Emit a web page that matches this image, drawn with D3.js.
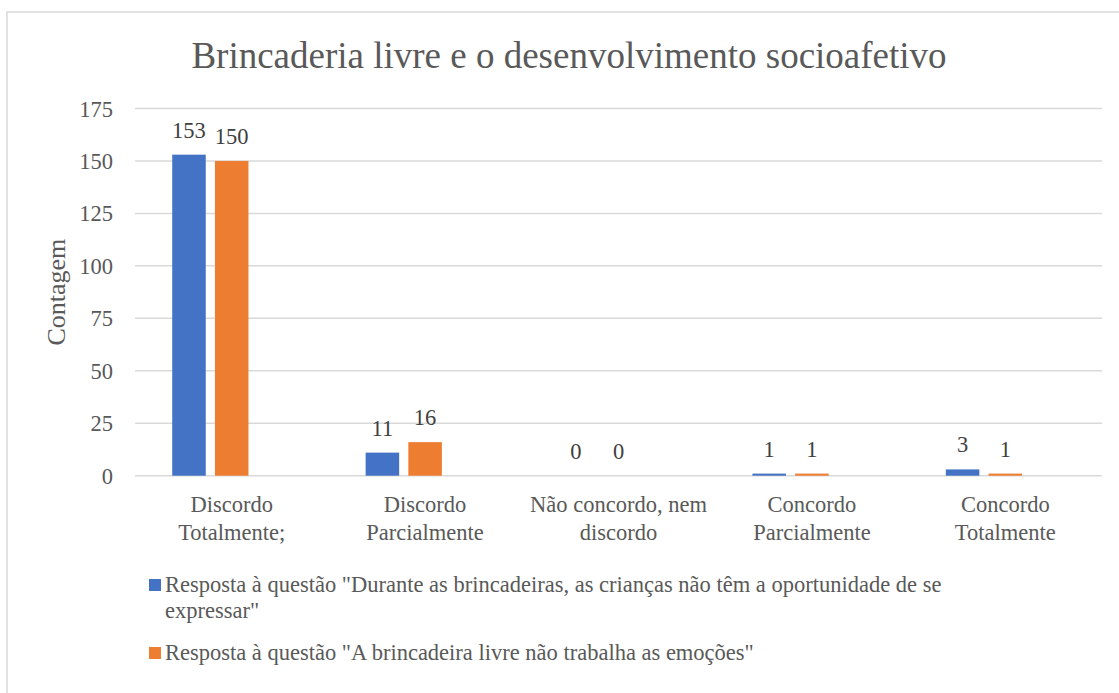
<!DOCTYPE html>
<html>
<head>
<meta charset="utf-8">
<script src="https://cdn.jsdelivr.net/npm/d3@7"></script>
</head>
<body style="margin:0; background:#fff">
<svg id="chart" width="1119" height="693" style="display:block"></svg>
<script>
// Response categories on the x axis
const categories = [
  "Discordo Totalmente;",
  "Discordo Parcialmente",
  "Não concordo, nem discordo",
  "Concordo Parcialmente",
  "Concordo Totalmente"
];

// Counts for each question
const seriesNames = [
  "Resposta à questão \"Durante as brincadeiras, as crianças não têm a oportunidade de se expressar\"",
  "Resposta à questão \"A brincadeira livre não trabalha as emoções\""
];
const expressarValues = [153, 11, 0, 1, 3];
const emocoesValues = [150, 16, 0, 1, 1];

const yTicks = [0, 25, 50, 75, 100, 125, 150, 175];
const title = "Brincaderia livre e o desenvolvimento socioafetivo";
const yAxisTitle = "Contagem";

const colors = ["#4472C4", "#ED7D31"];
const seriesValues = [expressarValues, emocoesValues];

const textColor = "#595959";
const FONT = "'Liberation Serif'";

const svg = d3.select("#chart").style("font-family", FONT, "important");

// Outer frame
svg.append("rect")
  .attr("x", 7).attr("y", 12)
  .attr("width", 1130).attr("height", 700)
  .attr("fill", "#fff")
  .attr("stroke", "#d9d9d9").attr("stroke-width", 1.5);

const plot = { left: 135, right: 1102, top: 108.5, bottom: 475.7 };

const y = d3.scaleLinear().domain([0, 175]).range([plot.bottom, plot.top]);

const x0 = d3.scaleBand()
  .domain(categories)
  .range([plot.left, plot.right])
  .paddingInner(0.385)
  .paddingOuter(0.1925);

// Each group keeps three slots; the last one stays empty
const slots = [0, 1, 2];
const x1 = d3.scaleBand()
  .domain(slots)
  .range([0, x0.bandwidth()])
  .paddingInner(0.215);

function label(sel, x, yPos, size, anchor, color) {
  return sel.append("text")
    .attr("x", x).attr("y", yPos)
    .style("font-family", FONT, "important")
    .attr("font-size", size)
    .attr("text-anchor", anchor)
    .attr("fill", color || textColor);
}

// Title
label(svg, 569, 68, 37, "middle").text(title);

// Gridlines
svg.append("g")
  .selectAll("line")
  .data(yTicks)
  .join("line")
  .attr("x1", plot.left).attr("x2", plot.right)
  .attr("y1", d => y(d)).attr("y2", d => y(d))
  .attr("stroke", "#d9d9d9").attr("stroke-width", 1.5);

// Y tick labels
const yAxis = svg.append("g");
yTicks.forEach(t => {
  label(yAxis, 113, y(t) + 8, 22.5, "end").text(t);
});

// Y axis title
label(svg, 0, 0, 26, "middle")
  .attr("transform", `translate(65,${(plot.top + plot.bottom) / 2}) rotate(-90)`)
  .text(yAxisTitle);

// Bars
const bars = svg.append("g");
seriesValues.forEach((vals, si) => {
  bars.selectAll(null)
    .data(vals)
    .join("rect")
    .attr("x", (d, i) => x0(categories[i]) + x1(slots[si]))
    .attr("y", d => y(d))
    .attr("width", x1.bandwidth())
    .attr("height", d => y(0) - y(d))
    .attr("fill", colors[si]);
});

// Data labels
const dl = svg.append("g");
seriesValues.forEach((vals, si) => {
  vals.forEach((v, i) => {
    label(dl, x0(categories[i]) + x1(slots[si]) + x1.bandwidth() / 2, y(v) - 17, 22.5, "middle", "#404040").text(v);
  });
});

// Word-wrap helper
function wrapWords(text, fontSize, maxWidth) {
  const probe = label(svg, 0, 0, fontSize, "start").attr("visibility", "hidden");
  const words = text.split(" ");
  const lines = [];
  let cur = "";
  words.forEach(w => {
    const test = cur ? cur + " " + w : w;
    probe.text(test);
    if (probe.node().getComputedTextLength() > maxWidth && cur) {
      lines.push(cur);
      cur = w;
    } else {
      cur = test;
    }
  });
  if (cur) lines.push(cur);
  probe.remove();
  return lines;
}

// Category labels
const xl = svg.append("g");
categories.forEach(c => {
  const cx = x0(c) + x0.bandwidth() / 2;
  const lines = wrapWords(c, 22.5, 182);
  lines.forEach((ln, k) => {
    label(xl, cx, 512 + k * 28, 22.5, "middle").text(ln);
  });
});

// Legend
const legend = svg.append("g");
const legendRows = [579, 647];
seriesNames.forEach((name, si) => {
  const top = legendRows[si];
  legend.append("rect")
    .attr("x", 149).attr("y", top)
    .attr("width", 12).attr("height", 12)
    .attr("fill", colors[si]);
  const lines = wrapWords(name, 22.5, 850);
  lines.forEach((ln, k) => {
    label(legend, 165, top + 13 + k * 26, 22.5, "start").text(ln);
  });
});
</script>
</body>
</html>
